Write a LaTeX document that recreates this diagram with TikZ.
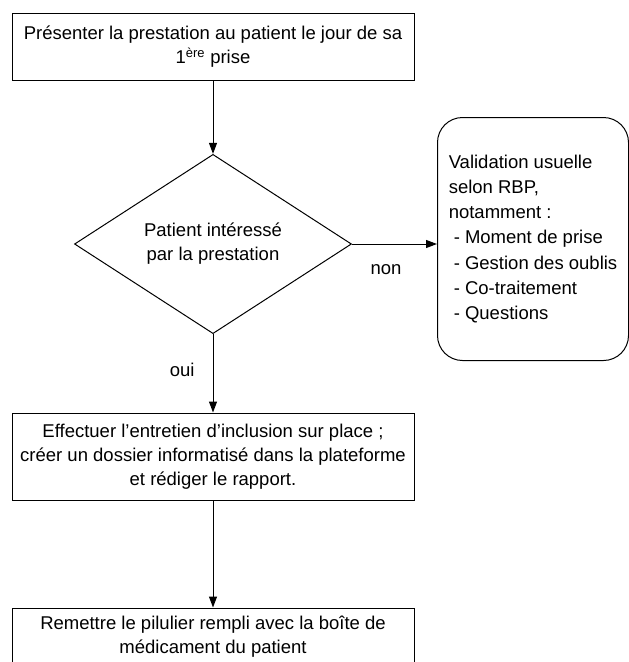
\documentclass[tikz,border=0pt]{standalone}
\usepackage{fontspec}
\setmainfont{Liberation Sans}
\usetikzlibrary{positioning,arrows}
\usetikzlibrary{shapes}
\usetikzlibrary{arrows.meta}

\begin{document}
\begin{tikzpicture}[x=1pt,y=-1pt]
	\useasboundingbox (0,0) rectangle (629,662);
	\tikzstyle{every node}=[font=\fontsize{18.5}{24}\selectfont, inner sep=0pt]
	\tikzstyle{etape}=[draw, line width=1pt, rectangle, minimum width=402pt, align=center]
	\tikzstyle{fleche}=[line width=1pt, -{Triangle[length=11pt,width=8pt]}]
	\draw (213,46.5) node (presenter) [etape, minimum height=67pt] {Présenter la prestation au patient le jour de sa\\1\textsuperscript{ère} prise};
	\draw (213,244) node (interesse) [draw, diamond, line width=1pt, minimum width=277pt, minimum height=122pt, align=center] {Patient intéressé\\par la prestation};
	\draw (437,117) node (validation) [draw, line width=1pt, rounded corners=25pt, anchor=north west, minimum width=191pt, minimum height=243pt, align=left, font=\fontsize{18.5}{25.3}\selectfont] {Validation usuelle\\selon RBP,\\notamment :\\\hspace*{5pt}- Moment de prise\\\hspace*{5pt}- Gestion des oublis\\\hspace*{5pt}- Co-traitement\\\hspace*{5pt}- Questions};
	\draw (213,456.5) node (inclusion) [etape, minimum height=87pt] {Effectuer l'entretien d'inclusion sur place ;\\créer un dossier informatisé dans la plateforme\\et rédiger le rapport.};
	\draw (213,637) node (remettre) [etape, minimum height=58pt] {Remettre le pilulier rempli avec la boîte de\\médicament du patient};

	\draw [fleche] (presenter) to (interesse);
	\draw [fleche] (interesse.east) to node[pos=0.4, below=20pt] {non} (interesse.east -| validation.west);
	\draw [fleche] (interesse) to node[pos=0.46, left=18pt] {oui} (inclusion);
	\draw [fleche] (inclusion) to (remettre);
\end{tikzpicture}
\end{document}
